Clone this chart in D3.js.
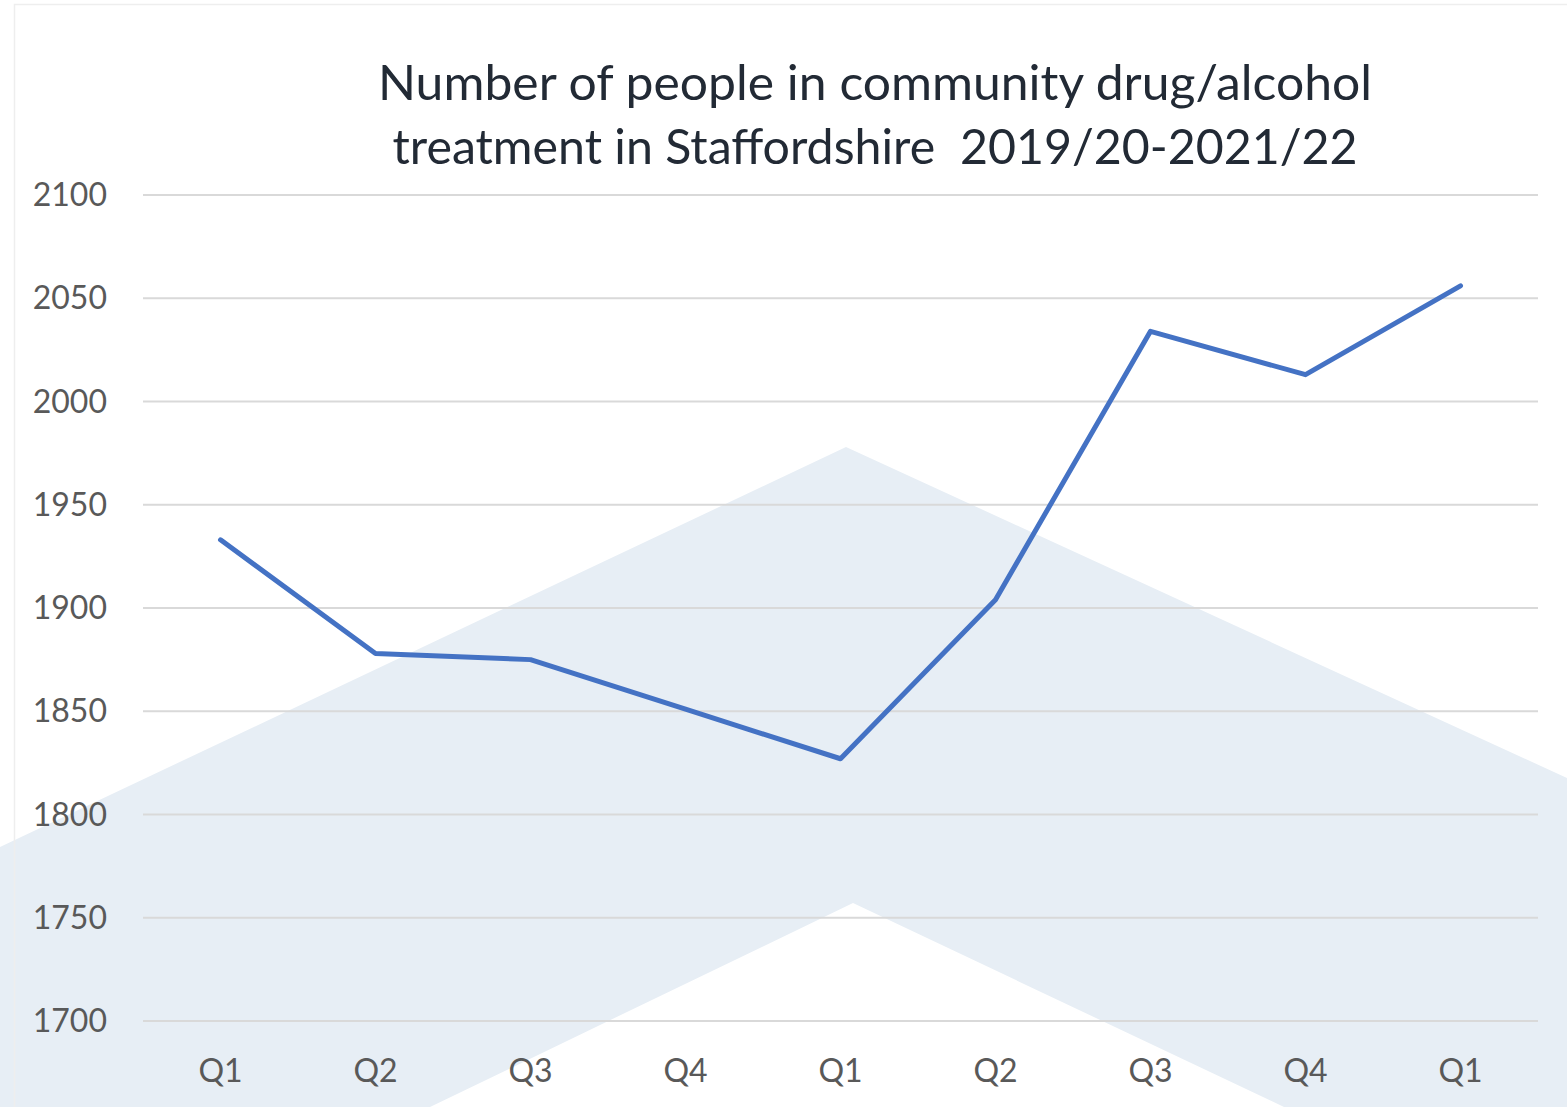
<!DOCTYPE html>
<html>
<head>
<meta charset="utf-8">
<script src="https://cdn.jsdelivr.net/npm/d3@7"></script>
<style>
  body { margin: 0; background: #fff; }
  svg { display: block; }
</style>
</head>
<body>
<svg id="chart" width="1567" height="1107"></svg>
<script>
// data
const quarters = ['Q1', 'Q2', 'Q3', 'Q4', 'Q1', 'Q2', 'Q3', 'Q4', 'Q1']
const people = [1933, 1878, 1875, 1851, 1827, 1904, 2034, 2013, 2056]
const yTicks = [1700, 1750, 1800, 1850, 1900, 1950, 2000, 2050, 2100]
const titleLines = [
  'Number of people in community drug/alcohol',
  'treatment in Staffordshire  2019/20-2021/22'
]

const width = 1567
const height = 1107
const margin = { top: 195, right: 29, bottom: 86, left: 143 }
const font = 'Lato, "Open Sans", sans-serif'

const svg = d3.select('#chart')

// background chevron decoration
svg.append('path')
  .attr('fill', '#e7eef5')
  .attr('d', 'M0,847 L846,447 L1567,778 L1567,1107 L1284,1107 L853,903 L430,1107 L0,1107 Z')

// faint frame
svg.append('rect')
  .attr('x', 14.5).attr('y', 4.5)
  .attr('width', width).attr('height', height)
  .attr('fill', 'none')
  .attr('stroke', '#eeeeee')
  .attr('stroke-width', 1.5)

const x = d3.scaleBand()
  .domain(d3.range(quarters.length))
  .range([margin.left, width - margin.right])

const y = d3.scaleLinear()
  .domain([1700, 2100])
  .range([height - margin.bottom, margin.top])

// gridlines
svg.append('g')
  .selectAll('line')
  .data(yTicks)
  .join('line')
  .attr('x1', margin.left)
  .attr('x2', width - margin.right)
  .attr('y1', d => y(d))
  .attr('y2', d => y(d))
  .attr('stroke', '#d9d9d9')
  .attr('stroke-width', 2)

// y labels
svg.append('g')
  .selectAll('text')
  .data(yTicks)
  .join('text')
  .attr('x', 107)
  .attr('y', d => y(d))
  .attr('dy', '0.35em')
  .attr('text-anchor', 'end')
  .attr('font-family', font)
  .attr('font-size', 32)
  .attr('fill', '#595959')
  .text(d => d)

// x labels
svg.append('g')
  .selectAll('text')
  .data(quarters)
  .join('text')
  .attr('x', (d, i) => x(i) + x.bandwidth() / 2)
  .attr('y', 1082)
  .attr('text-anchor', 'middle')
  .attr('font-family', font)
  .attr('font-size', 32)
  .attr('fill', '#595959')
  .text(d => d)

// the series line
const line = d3.line()
  .x((d, i) => x(i) + x.bandwidth() / 2)
  .y(d => y(d))

svg.append('path')
  .datum(people)
  .attr('fill', 'none')
  .attr('stroke', '#4472c4')
  .attr('stroke-width', 5)
  .attr('stroke-linejoin', 'round')
  .attr('stroke-linecap', 'round')
  .attr('d', line)

// title
const titleWidths = [994, 965]
svg.append('g')
  .selectAll('text')
  .data(titleLines)
  .join('text')
  .attr('x', 875)
  .attr('y', (d, i) => 100 + i * 64)
  .attr('text-anchor', 'middle')
  .attr('font-family', font)
  .attr('font-size', 48)
  .attr('fill', '#222a35')
  .attr('textLength', (d, i) => titleWidths[i])
  .attr('lengthAdjust', 'spacingAndGlyphs')
  .style('white-space', 'pre')
  .text(d => d)
</script>
</body>
</html>
